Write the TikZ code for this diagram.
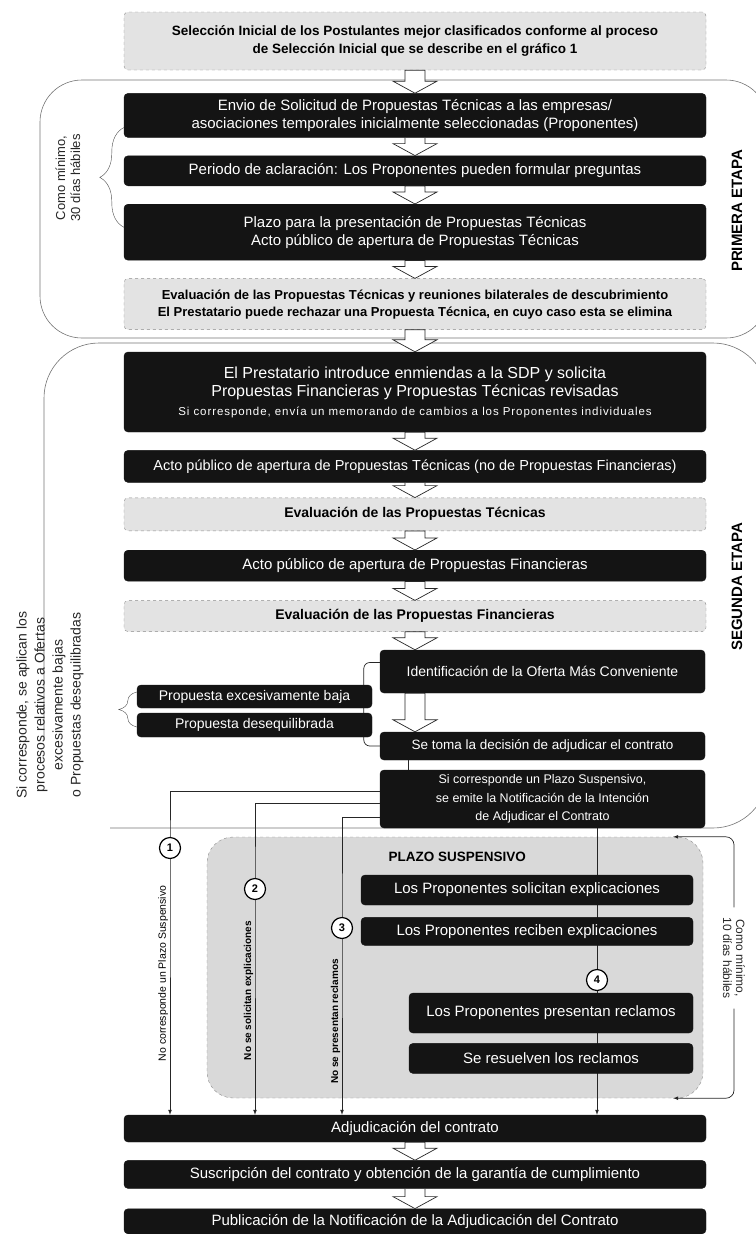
\documentclass[tikz,border=0pt]{standalone}
\usepackage{fontspec}
\setmainfont{Liberation Sans}
\usetikzlibrary{arrows,calc,positioning,decorations.pathreplacing}

\begin{document}
\begin{tikzpicture}[x=1pt, y=-1pt, >=latex,
    flowbox/.style={rounded corners=4pt, align=center, inner sep=2pt,
                    minimum width=582pt},
    darkbox/.style={flowbox, draw=black!92, fill=black!92, text=white,
                    font=\fontsize{15}{18}\selectfont},
    lightbox/.style={flowbox, draw=black!45, dashed, fill=black!11,
                     font=\bfseries\fontsize{14}{17}\selectfont},
    etapa/.style={draw=black!55, line width=0.6pt},
    flowline/.style={draw=black!85, line width=0.7pt},
    lbl/.style={rotate=90, anchor=south, inner sep=1.5pt,
                font=\fontsize{10.5}{12}\selectfont},
    numc/.style={circle, draw=black, line width=1.2pt, fill=white,
                 inner sep=0pt, minimum size=21pt,
                 font=\bfseries\fontsize{11}{11}\selectfont},
    blockarr/.style={draw=black!85, fill=white, line width=0.7pt},
    side/.style={rotate=90, align=center, text=black!85},
    hbrace/.style={draw=black!70, decorate, decoration={brace, amplitude=#1}}]

\useasboundingbox (0,0) rectangle (755,1234);

% stage outlines
\draw[etapa, rounded corners=42pt] (40,80) rectangle (768,338);
\draw[etapa, rounded corners=55pt] (44,740) -- (44,343) -- (768,343)
      -- (768,828) -- (110,828);

% plazo suspensivo region
\node[draw=black!45, dashed, fill=black!15, rounded corners=26pt,
      minimum width=496pt, minimum height=261pt] (ps) at (455,967.5) {};

% main column
\node[lightbox, minimum height=58pt, font=\bfseries\fontsize{13.5}{18}\selectfont]
      (sel) at (415,41)
      {Selección Inicial de los Postulantes mejor clasificados conforme al proceso\\
       de Selección Inicial que se describe en el gráfico 1};
\node[darkbox, minimum height=44pt, below=23pt of sel] (envio)
      {Envio de Solicitud de Propuestas Técnicas a las empresas/\\
       asociaciones temporales inicialmente seleccionadas (Proponentes)};
\node[darkbox, minimum height=30pt, below=18pt of envio] (periodo)
      {Periodo de aclaración: Los Proponentes pueden formular preguntas};
\node[darkbox, minimum height=56pt, below=18pt of periodo] (plazo)
      {Plazo para la presentación de Propuestas Técnicas\\
       Acto público de apertura de Propuestas Técnicas};
\node[lightbox, minimum height=51pt, below=18pt of plazo,
      font=\bfseries\fontsize{13}{17}\selectfont] (evalA)
      {Evaluación de las Propuestas Técnicas y reuniones bilaterales de descubrimiento\\
       El Prestatario puede rechazar una Propuesta Técnica, en cuyo caso esta se elimina};
\node[darkbox, minimum height=80pt, below=22pt of evalA,
      font=\fontsize{16}{18.5}\selectfont] (prest)
      {El Prestatario introduce enmiendas a la SDP y solicita\\
       Propuestas Financieras y Propuestas Técnicas revisadas\\
       {\fontsize{11.5}{14}\selectfont\addfontfeature{LetterSpace=8}Si corresponde, envía un memorando de cambios a los Proponentes individuales}};
\node[darkbox, minimum height=32pt, below=18pt of prest,
      font=\fontsize{14.5}{18}\selectfont] (actoT)
      {Acto público de apertura de Propuestas Técnicas (no de Propuestas Financieras)};
\node[lightbox, minimum height=33pt, below=15pt of actoT] (evalT)
      {Evaluación de las Propuestas Técnicas};
\node[darkbox, minimum height=31pt, below=19pt of evalT] (actoF)
      {Acto público de apertura de Propuestas Financieras};
\node[lightbox, minimum height=31pt, below=19pt of actoF] (evalF)
      {Evaluación de las Propuestas Financieras};

% award decision
\node[darkbox, minimum width=325pt, minimum height=43pt,
      font=\fontsize{14}{18}\selectfont] (ident) at (542.5,671.5)
      {Identificación de la Oferta Más Conveniente};
\node[darkbox, minimum width=325pt, minimum height=28pt,
      font=\fontsize{13.5}{18}\selectfont] (decision) at (542.5,746)
      {Se toma la decisión de adjudicar el contrato};
\draw[flowline, rounded corners=6pt] ($(ident.west)+(0,-9)$)
      -| ($(decision.west)+(-16,0)$) -- (decision.west);
\node[darkbox, minimum width=235pt, minimum height=23pt,
      font=\fontsize{14}{18}\selectfont] (baja) at (254.5,696.5)
      {Propuesta excesivamente baja};
\node[darkbox, minimum width=235pt, minimum height=24pt,
      font=\fontsize{14}{18}\selectfont] (deseq) at (254.5,725)
      {Propuesta desequilibrada};
\node[darkbox, minimum width=325pt, minimum height=58pt,
      font=\fontsize{12.5}{18.5}\selectfont] (notif) at (542.5,799)
      {Si corresponde un Plazo Suspensivo,\\
       se emite la Notificación de la Intención\\
       de Adjudicar el Contrato};

% closing steps
\node[darkbox, minimum height=27pt] (adj) at (415,1128.5)
      {Adjudicación del contrato};
\node[darkbox, minimum height=28pt, below=18pt of adj] (firma)
      {Suscripción del contrato y obtención de la garantía de cumplimiento};
\node[darkbox, minimum height=25pt, below=20pt of firma] (publ)
      {Publicación de la Notificación de la Adjudicación del Contrato};

\draw[flowline] ($(decision.south west)+(29,0)$) -- ($(notif.north west)+(29,0)$);

% branches to the award
\coordinate (k1) at (170,848);
\coordinate (k2) at (255,889);
\coordinate (k3) at (342,928);
\coordinate (k4) at (597,980);
\draw[flowline, ->] ($(notif.west)+(0,-8)$) -| (k1)
      -- node[lbl, pos=0.47] {No corresponde un Plazo Suspensivo} (k1 |- adj.north);
\draw[flowline, ->] ($(notif.west)+(0,4)$) -| (k2)
      -- node[lbl, pos=0.45, font=\bfseries\fontsize{10}{12}\selectfont]
         {No se solicitan explicaciones} (k2 |- adj.north);
\draw[flowline, ->] ($(notif.west)+(0,18)$) -| (k3)
      -- node[lbl, pos=0.5, font=\bfseries\fontsize{10}{12}\selectfont]
         {No se presentan reclamos} (k3 |- adj.north);
\draw[flowline, ->] (notif.south -| k4) -- (k4 |- adj.north);

% inside the plazo suspensivo
\node[font=\bfseries\fontsize{13.5}{16}\selectfont, anchor=west] (pstitle)
      at (385,857) {PLAZO SUSPENSIVO};
\node[darkbox, minimum width=332pt, minimum height=30pt] (pide) at (527,890)
      {Los Proponentes solicitan explicaciones};
\node[darkbox, minimum width=332pt, minimum height=28pt, below=12pt of pide] (recibe)
      {Los Proponentes reciben explicaciones};
\node[darkbox, minimum width=284pt, minimum height=40pt] (reclama) at (551,1013)
      {Los Proponentes presentan reclamos};
\node[darkbox, minimum width=284pt, minimum height=30pt, below=10pt of reclama] (resuelve)
      {Se resuelven los reclamos};

\node[numc] (n1) at (k1) {1};
\node[numc] (n2) at (k2) {2};
\node[numc] (n3) at (k3) {3};
\node[numc] (n4) at (k4) {4};

% hollow arrows of the main flow
\coordinate (axis) at (415,0);
\foreach \a/\b in {sel/envio, envio/periodo, periodo/plazo, plazo/evalA,
                   evalA/prest, prest/actoT, actoT/evalT, evalT/actoF,
                   actoF/evalF, evalF/ident, ident/decision, adj/firma, firma/publ}
  \path[blockarr] let \p1=(\a.south -| axis), \p2=(\b.north -| axis) in
    (\x1-10pt,\y1) -- (\x1-10pt,\y2+12pt) -- (\x1-22pt,\y2+12pt) -- (\x1,\y2)
    -- (\x1+22pt,\y2+12pt) -- (\x1+10pt,\y2+12pt) -- (\x1+10pt,\y1) -- cycle;

% braces
\draw[hbrace=24pt] ($(plazo.west)+(0,-5)$) -- ($(envio.south west)+(0,-10)$);
\draw[hbrace=18pt] ($(deseq.west)+(0,2)$) -- ($(baja.west)+(0,-4.5)$);

% side notes
\node[side, font=\fontsize{13}{15}\selectfont] (min30) at (68,178)
      {Como mínimo,\\30 días hábiles};
\node[side, font=\fontsize{14}{18}\selectfont] (ofertas) at (50,705)
      {Si corresponde, se aplican los\\procesos relativos a Ofertas\\
       excesivamente bajas\\o Propuestas desequilibradas};
\node[side, text=black, font=\bfseries\fontsize{15}{18}\selectfont] (etapa1)
      at (737,211) {PRIMERA ETAPA};
\node[side, text=black, font=\bfseries\fontsize{15}{18}\selectfont] (etapa2)
      at (737,587) {SEGUNDA ETAPA};
\node[rotate=-90, align=center, text=black!85, inner xsep=10pt,
      font=\fontsize{12}{13}\selectfont] (min10) at (734,958)
      {Como mínimo,\\10 días hábiles};
\draw[flowline, ->, rounded corners=8pt] (min10.west) |- ($(ps.north east)+(-30,0)$);
\draw[flowline, ->, rounded corners=8pt] (min10.east) |- ($(ps.south east)+(-30,0)$);

\end{tikzpicture}
\end{document}
